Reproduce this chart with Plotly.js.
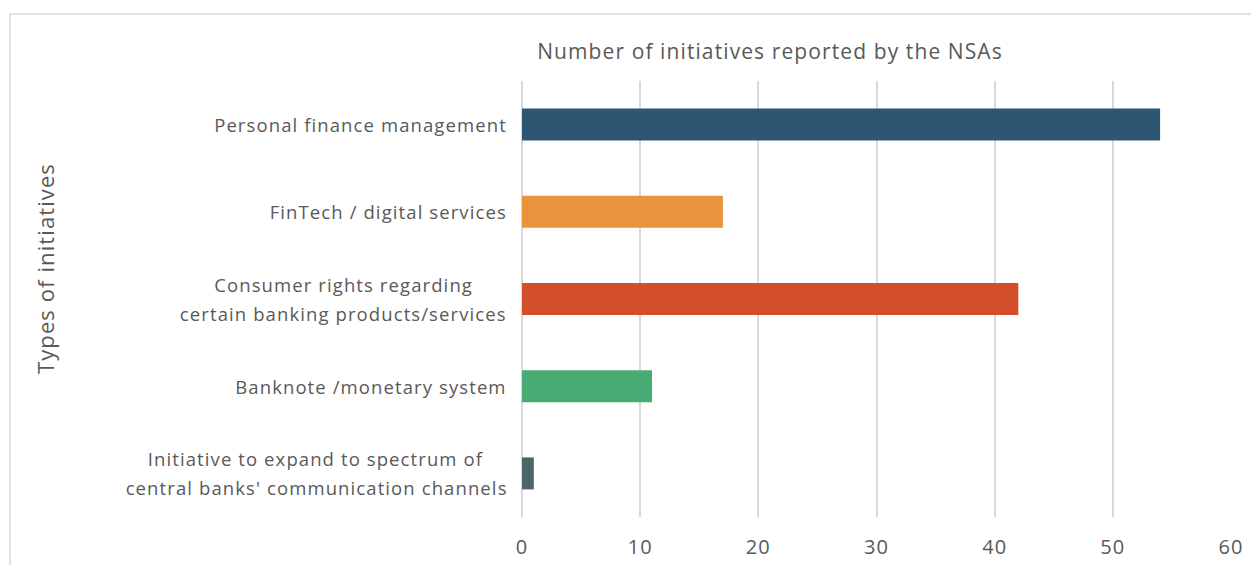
<!DOCTYPE html>
<html>
<head>
<meta charset="utf-8">
<script src="https://cdn.plot.ly/plotly-3.0.1.min.js"></script>
<style>
html,body{margin:0;padding:0;background:#fff;}
#chart{width:1251px;height:565px;}
#chart text{letter-spacing:1.1px;}
</style>
</head>
<body>
<div id="chart"></div>
<script>
const categories = [
  "Personal finance management",
  "FinTech / digital services",
  "Consumer rights regarding\ncertain banking products/services",
  "Banknote /monetary system",
  "Initiative to expand to spectrum of\ncentral banks' communication channels"
];
const values = [54, 17, 42, 11, 1];
const barColors = ["#2e5673", "#e9943d", "#d34e2a", "#48ab73", "#4f636d"];
const xTicks = [0, 10, 20, 30, 40, 50, 60];
const chartTitle = "Number of initiatives reported by the NSAs";
const yTitle = "Types of initiatives";

const W = 1251, H = 565;
const L = 522, R = 20, T = 81, B = 48;
const pw = W - L - R, ph = H - T - B;
const FONT = "Open Sans";
const GREY = "#595959";
const LABEL_SIZE = 18.5, LINE_GAP = 29, LABEL_RIGHT = 507;

function measure(text, size) {
  const ns = "http://www.w3.org/2000/svg";
  const s = document.createElementNS(ns, "svg");
  s.setAttribute("style", "position:absolute;left:-9999px;top:0");
  const t = document.createElementNS(ns, "text");
  t.setAttribute("style", `font-family:'${FONT}';font-size:${size}px;letter-spacing:1.1px`);
  t.textContent = text;
  s.appendChild(t);
  document.body.appendChild(s);
  const w = t.getComputedTextLength();
  document.body.removeChild(s);
  return w;
}

const annotations = [];
categories.forEach(c => {
  const lines = c.split("\n");
  const maxW = Math.max(...lines.map(l => measure(l, LABEL_SIZE)));
  const cx = LABEL_RIGHT - maxW / 2;
  lines.forEach((ln, i) => {
    annotations.push({
      text: ln, x: (cx - L) / pw, xref: "paper", y: c, yref: "y",
      xanchor: "center", yanchor: "middle",
      yshift: ((lines.length - 1) / 2 - i) * LINE_GAP,
      showarrow: false, font: {family: FONT, size: LABEL_SIZE, color: GREY}
    });
  });
});
annotations.push({
  text: yTitle, textangle: -90, xref: "paper", yref: "paper",
  x: (45 - L) / pw, y: 1 - (269 - T) / ph, xanchor: "center", yanchor: "middle",
  showarrow: false, font: {family: FONT, size: 22, color: GREY}
});

const trace = {
  type: "bar", orientation: "h",
  y: categories, x: values,
  marker: {color: barColors},
  width: 0.367, hoverinfo: "x+y"
};

const layout = {
  width: W, height: H,
  margin: {l: L, r: R, t: T, b: B, pad: 0},
  paper_bgcolor: "#ffffff", plot_bgcolor: "#ffffff",
  showlegend: false,
  title: {
    text: chartTitle, xref: "container", yref: "container",
    x: 770 / W, xanchor: "center", y: 1 - 52 / H, yanchor: "middle",
    font: {family: FONT, size: 21, color: GREY}
  },
  xaxis: {
    range: [0, 60], tickvals: xTicks, ticktext: xTicks.map(String),
    showgrid: true, gridcolor: "#d9d9d9", gridwidth: 2,
    zeroline: true, zerolinecolor: "#d9d9d9", zerolinewidth: 2,
    showline: false, ticks: "", ticklabelstandoff: 16,
    tickfont: {family: FONT, size: 20, color: GREY}, fixedrange: true
  },
  yaxis: {
    type: "category", autorange: "reversed",
    showticklabels: false, showgrid: false, zeroline: false, showline: false,
    ticks: "", fixedrange: true
  },
  annotations: annotations,
  shapes: [{
    type: "rect", xref: "paper", yref: "paper", layer: "below",
    x0: (10 - L) / pw, x1: 1.2, y0: -0.5, y1: 1 + (T - 14) / ph,
    line: {color: "#d9d9d9", width: 1.5}, fillcolor: "rgba(0,0,0,0)"
  }]
};

Plotly.newPlot("chart", [trace], layout, {displayModeBar: false, staticPlot: true});
</script>
</body>
</html>
